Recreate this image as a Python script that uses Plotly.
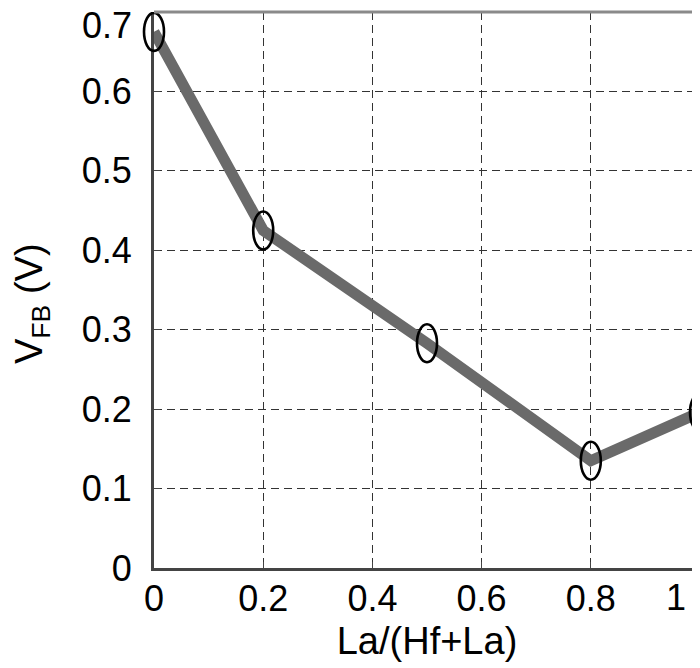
import plotly.graph_objects as go

# Data
x_vals = [0.0, 0.2, 0.5, 0.8, 1.0]
vfb = [0.675, 0.425, 0.283, 0.135, 0.196]
x_ticks = [0, 0.2, 0.4, 0.6, 0.8, 1.0]
x_ticktext = ["0", "0.2", "0.4", "0.6", "0.8", "1"]
y_ticks = [0, 0.1, 0.2, 0.3, 0.4, 0.5, 0.6, 0.7]
y_ticktext = ["0", "0.1", "0.2", "0.3", "0.4", "0.5", "0.6", "0.7"]
x_range = [0, 1.0]
y_range = [0, 0.7]

FONT = "Liberation Sans, Arial, sans-serif"

fig = go.Figure()
fig.add_trace(go.Scatter(
    x=x_vals, y=vfb, mode="lines",
    line=dict(color="#6a6a6a", width=11),
    showlegend=False, hoverinfo="skip",
))

# open ellipse markers anchored at data points (pixel sized)
shapes = []
for xv, yv in zip(x_vals, vfb):
    frac = (xv - x_range[0]) / (x_range[1] - x_range[0])
    shapes.append(dict(
        type="circle", xref="x domain", yref="y",
        xsizemode="pixel", ysizemode="pixel",
        xanchor=frac, yanchor=yv,
        x0=-10, x1=10, y0=-19, y1=19,
        line=dict(color="black", width=2.6),
        fillcolor="rgba(0,0,0,0)", layer="above",
    ))
# top and right frame lines (lighter gray)
shapes.append(dict(type="line", xref="paper", yref="paper", x0=0, x1=1, y0=1, y1=1,
                   line=dict(color="#8a8a8a", width=3), layer="above"))
shapes.append(dict(type="line", xref="paper", yref="paper", x0=1, x1=1, y0=0, y1=1,
                   line=dict(color="#8a8a8a", width=2), layer="above"))

annotations = [
    # edge tick labels, nudged inward to stay inside the picture
    dict(text=x_ticktext[-1], x=x_ticks[-1], xref="x", y=0, yref="y domain",
         xanchor="right", yanchor="top", xshift=-13, yshift=-8, borderpad=0,
         showarrow=False, font=dict(size=36)),
    dict(text=y_ticktext[-1], x=0, xref="x domain", y=y_ticks[-1], yref="y",
         xanchor="right", yanchor="middle", xshift=-21, yshift=-13, borderpad=0,
         showarrow=False, font=dict(size=36)),
    # y axis title
    dict(text="V<sub>FB</sub> (V)", x=0, xref="paper", y=0.5, yref="paper",
         xanchor="right", yanchor="middle", textangle=-90,
         xshift=-96, yshift=-14, showarrow=False, font=dict(size=38)),
]

grid_dash = "8px,5px"
# page body has an 8px default margin, so the figure is 692x660 placed at (8, 8)
fig.update_layout(
    width=692, height=660,
    margin=dict(l=146, r=0, t=4, b=100, autoexpand=False),
    paper_bgcolor="white", plot_bgcolor="white",
    font=dict(family=FONT, color="black", size=36),
    shapes=shapes, annotations=annotations,
    xaxis=dict(
        range=x_range, tickvals=x_ticks[:-1], ticktext=x_ticktext[:-1],
        showgrid=True, gridcolor="#333333", gridwidth=1, griddash=grid_dash,
        showline=True, linecolor="#444444", linewidth=3,
        ticks="inside", ticklen=6, tickcolor="#444444",
        zeroline=False, tickfont=dict(size=36),
        ticklabelstandoff=-3, ticklabeloverflow="allow",
        automargin=False,
        title=dict(text="La/(Hf+La)", font=dict(size=38), standoff=10),
    ),
    yaxis=dict(
        range=y_range, tickvals=y_ticks[:-1], ticktext=y_ticktext[:-1],
        showgrid=True, gridcolor="#333333", gridwidth=1, griddash=grid_dash,
        showline=True, linecolor="#444444", linewidth=3,
        ticks="inside", ticklen=6, tickcolor="#444444",
        zeroline=False, tickfont=dict(size=36),
        ticklabelstandoff=12, ticklabeloverflow="allow",
        automargin=False,
    ),
)

fig.write_html("out.html")
